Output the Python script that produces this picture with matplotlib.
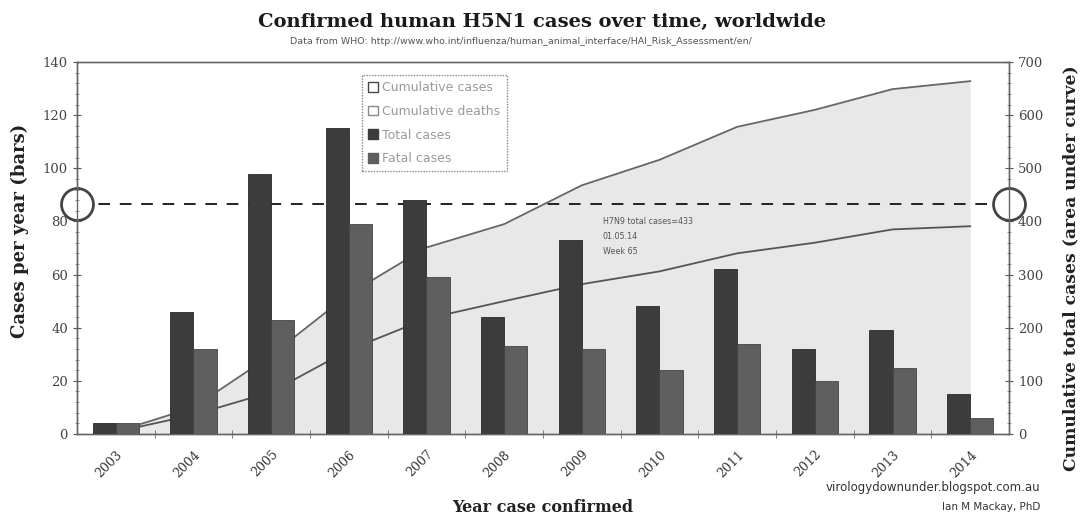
import matplotlib
matplotlib.use("Agg")
import matplotlib.pyplot as plt
import numpy as np
from matplotlib.patches import Patch
from matplotlib.ticker import MultipleLocator, FixedLocator

years = ["2003", "2004", "2005", "2006", "2007", "2008", "2009", "2010",
         "2011", "2012", "2013", "2014"]
total_cases = [4, 46, 98, 115, 88, 44, 73, 48, 62, 32, 39, 15]
fatal_cases = [4, 32, 43, 79, 59, 33, 32, 24, 34, 20, 25, 6]
cumulative_cases = [4, 50, 148, 263, 351, 395, 468, 516, 578, 610, 649, 664]
cumulative_deaths = [4, 36, 79, 158, 217, 250, 282, 306, 340, 360, 385, 391]
h7n9_total = 433
note_lines = ["H7N9 total cases=433", "01.05.14", "Week 65"]

serif = "DejaVu Serif"
dark = "#3c3c3c"
mid = "#5f5f5f"

fig = plt.figure(figsize=(10.81, 5.16), dpi=100)
ax = fig.add_axes([0.0712, 0.1589, 0.8622, 0.7209])
ax2 = ax.twinx()
# bars in front of the cumulative area
ax.set_zorder(ax2.get_zorder() + 1)
ax.patch.set_visible(False)

x = np.arange(len(years))
w = 0.3

# cumulative area (secondary axis)
ax2.fill_between(x, cumulative_cases, 0, color="#e8e8e8", lw=0, zorder=1)
ax2.plot(x, cumulative_cases, color="#666666", lw=1.3, zorder=2)
ax2.plot(x, cumulative_deaths, color="#555555", lw=1.3, zorder=2)
ax2.set_ylim(0, 700)
ax2.yaxis.set_major_locator(MultipleLocator(100))
ax2.yaxis.set_minor_locator(MultipleLocator(20))

# H7N9 reference line with end markers
ax2.plot([-0.5, 11.5], [h7n9_total, h7n9_total], color="#222222", lw=1.4,
         dashes=(6, 5), zorder=3, clip_on=False)
ax2.plot([-0.5, 11.5], [h7n9_total, h7n9_total], "o", ms=23, mfc="white",
         mec="#444444", mew=2, zorder=5, clip_on=False, ls="none")
for i, t in enumerate(note_lines):
    ax2.text(6.27, 400 - i * 28, t, fontsize=5.8, color="#555555",
             va="center", ha="left", zorder=4)

# yearly bars (primary axis)
ax.bar(x - w / 2, total_cases, width=w, color=dark, edgecolor="#2a2a2a",
       lw=0.6, zorder=3)
ax.bar(x + w / 2, fatal_cases, width=w, color=mid, edgecolor="#444444",
       lw=0.6, zorder=3)
ax.set_xlim(-0.5, 11.5)
ax.set_ylim(0, 140)
ax.yaxis.set_major_locator(MultipleLocator(20))
ax.yaxis.set_minor_locator(MultipleLocator(4))

ax.set_xticks(x)
ax.set_xticklabels(years, rotation=45, ha="right", rotation_mode="anchor",
                   fontfamily=serif, fontsize=9, color="#333333")
ax.xaxis.set_minor_locator(FixedLocator(x[:-1] + 0.5))
ax.tick_params(axis="x", which="major", length=0, pad=10)
ax.tick_params(axis="x", which="minor", length=6, direction="inout",
               color="#666666")

for a in (ax, ax2):
    a.tick_params(axis="y", which="major", length=6, direction="inout",
                  color="#555555", labelsize=9.5, labelcolor="#444444")
    a.tick_params(axis="y", which="minor", length=3, direction="inout",
                  color="#777777")
    for lab in a.get_yticklabels():
        lab.set_fontfamily(serif)
for s in list(ax.spines.values()) + list(ax2.spines.values()):
    s.set_color("#666666")
    s.set_linewidth(1.0)

ax.set_ylabel("Cases per year (bars)", fontfamily=serif, fontweight="bold",
              fontsize=13, color="#222222")
ax.yaxis.set_label_coords(-0.051, 0.545)
ax2.set_ylabel("Cumulative total cases (area under curve)", fontfamily=serif,
               fontweight="bold", fontsize=12.3, color="#222222")
ax2.yaxis.set_label_coords(1.057, 0.445)
ax.set_xlabel("Year case confirmed", fontfamily=serif, fontweight="bold",
              fontsize=11.5, color="#222222", labelpad=14)

handles = [
    Patch(facecolor="white", edgecolor="#444444", lw=1.0),
    Patch(facecolor="white", edgecolor="#888888", lw=1.0),
    Patch(facecolor=dark, edgecolor=dark),
    Patch(facecolor=mid, edgecolor=mid),
]
labels = ["Cumulative cases", "Cumulative deaths", "Total cases", "Fatal cases"]
leg = ax.legend(handles, labels, loc="upper left", bbox_to_anchor=(0.306, 0.965),
                fontsize=9, labelspacing=0.85, handlelength=0.8,
                handleheight=0.8, handletextpad=0.3, borderpad=0.5,
                borderaxespad=0.0,
                fancybox=False, framealpha=1, edgecolor="#888888")
leg.get_frame().set_linestyle((0, (1, 1)))
for t in leg.get_texts():
    t.set_color("#9a9a9a")
leg.set_zorder(10)

fig.text(0.501, 0.958, "Confirmed human H5N1 cases over time, worldwide",
         ha="center", va="center", fontfamily=serif, fontweight="bold",
         fontsize=14, color="#1a1a1a")
fig.text(0.482, 0.92,
         "Data from WHO: http://www.who.int/influenza/human_animal_interface/HAI_Risk_Assessment/en/",
         ha="center", va="center", fontsize=6.8, color="#555555")
fig.text(0.962, 0.056, "virologydownunder.blogspot.com.au", ha="right",
         va="center", fontsize=8.5, color="#333333")
fig.text(0.962, 0.018, "Ian M Mackay, PhD", ha="right", va="center",
         fontsize=7.5, color="#333333")

fig.savefig("out.png", dpi=100, facecolor="white")
